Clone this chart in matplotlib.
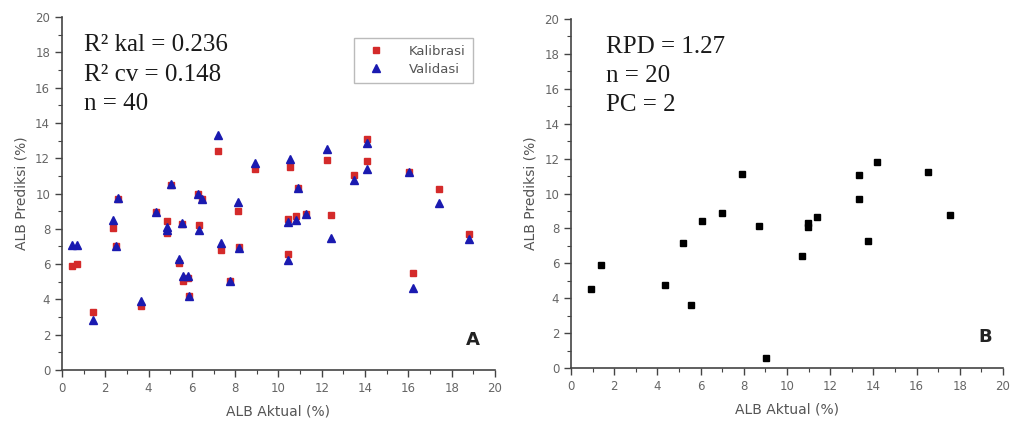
import matplotlib.pyplot as plt
import numpy as np
from matplotlib.ticker import MultipleLocator

# Panel A: actual vs predicted (calibration & cross-validation), same samples
alb_aktual_a = [0.45, 0.68, 1.42, 2.37, 2.49, 2.60, 3.63, 4.34, 5.03, 4.83,
                4.85, 5.42, 5.56, 5.60, 5.84, 5.88, 6.30, 6.45, 6.34, 7.20,
                7.33, 7.76, 8.14, 8.19, 8.90, 10.53, 10.92, 10.45, 10.80, 11.25,
                10.45, 12.22, 12.41, 13.49, 14.10, 14.10, 16.04, 16.23, 17.43, 18.81]
pred_kalibrasi = [5.89, 5.98, 3.27, 8.02, 7.03, 9.70, 3.61, 8.96, 10.50, 8.43,
                  7.79, 6.04, 8.28, 5.03, 5.22, 4.22, 9.97, 9.70, 8.24, 12.40,
                  6.80, 5.03, 9.00, 6.95, 11.40, 11.49, 10.29, 8.55, 8.73, 8.83,
                  6.55, 11.90, 8.77, 11.05, 13.07, 11.85, 11.24, 5.47, 10.26, 7.73]
pred_validasi = [7.08, 7.08, 2.85, 8.51, 7.03, 9.75, 3.93, 8.96, 10.54, 8.09,
                 7.95, 6.27, 8.32, 5.32, 5.30, 4.22, 9.97, 9.69, 7.94, 13.29,
                 7.18, 5.03, 9.50, 6.93, 11.74, 11.97, 10.29, 8.40, 8.50, 8.83,
                 6.23, 12.50, 7.50, 10.79, 12.86, 11.40, 11.24, 4.62, 9.46, 7.45]

# Panel B: prediction set
alb_aktual_b = [0.91, 1.39, 4.37, 5.17, 5.54, 6.06, 6.99, 7.90, 8.69, 9.04,
                10.71, 10.99, 10.99, 11.37, 13.32, 13.32, 13.77, 14.15, 16.54, 17.56]
pred_b = [4.50, 5.88, 4.77, 7.14, 3.61, 8.42, 8.88, 11.12, 8.14, 0.56,
          6.42, 8.33, 8.10, 8.67, 11.06, 9.68, 7.28, 11.82, 11.21, 8.75]

stats_a = ['R\u00b2 kal = 0.236', 'R\u00b2 cv = 0.148', 'n = 40']
stats_b = ['RPD = 1.27', 'n = 20', 'PC = 2']

gray = '#555555'
fig = plt.figure(figsize=(10.11, 4.23), dpi=100)
ax_a = fig.add_axes([0.0613, 0.1253, 0.4283, 0.8345])
ax_b = fig.add_axes([0.5648, 0.130, 0.4273, 0.825])

for ax in (ax_a, ax_b):
    ax.set_xlim(0, 20)
    ax.set_ylim(0, 20)
    ax.spines['top'].set_visible(False)
    ax.spines['right'].set_visible(False)
    for s in ('left', 'bottom'):
        ax.spines[s].set_color('#444444')
        ax.spines[s].set_linewidth(1.2)
    ax.xaxis.set_major_locator(MultipleLocator(2))
    ax.yaxis.set_major_locator(MultipleLocator(2))
    ax.xaxis.set_minor_locator(MultipleLocator(1))
    ax.yaxis.set_minor_locator(MultipleLocator(1))
    ax.tick_params(which='major', direction='out', length=5, width=1,
                   color='#444444', labelsize=8.5, labelcolor='#666666')
    ax.tick_params(which='minor', direction='out', length=3, width=0.8, color='#444444')
    ax.set_xlabel('ALB Aktual (%)', fontsize=10, color=gray, labelpad=7)
    ax.set_ylabel('ALB Prediksi (%)', fontsize=10, color=gray, labelpad=5)

ax_a.plot(alb_aktual_a, pred_kalibrasi, 's', color='#d42a2a', markersize=5,
          label='Kalibrasi', clip_on=False)
ax_a.plot(alb_aktual_a, pred_validasi, '^', color='#1a1ab0', markersize=6,
          label='Validasi', clip_on=False)
leg = ax_a.legend(loc='upper left', bbox_to_anchor=(0.66, 0.96), fontsize=9.5,
                  frameon=True, fancybox=False, edgecolor='#aaaaaa',
                  handletextpad=1.4, borderpad=0.55, labelspacing=0.35,
                  handlelength=2.2)
for t in leg.get_texts():
    t.set_color(gray)

ax_b.plot(alb_aktual_b, pred_b, 's', color='black', markersize=5, clip_on=False)

for i, s in enumerate(stats_a):
    ax_a.text(0.05, 0.92 - i * 0.083, s, transform=ax_a.transAxes, fontsize=18,
              family='Liberation Serif', color='#1a1a1a', va='center')
for i, s in enumerate(stats_b):
    ax_b.text(0.08, 0.92 - i * 0.083, s, transform=ax_b.transAxes, fontsize=18,
              family='Liberation Serif', color='#1a1a1a', va='center')

ax_a.text(0.965, 0.085, 'A', transform=ax_a.transAxes, fontsize=13,
          fontweight='bold', color='#222222', ha='right', va='center')
ax_b.text(0.975, 0.09, 'B', transform=ax_b.transAxes, fontsize=13,
          fontweight='bold', color='#222222', ha='right', va='center')

fig.savefig('out.png', dpi=100)
